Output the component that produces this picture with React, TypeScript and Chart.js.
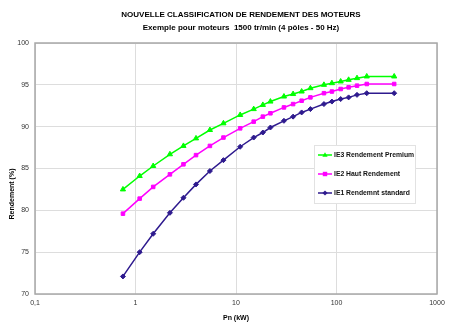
import React, { useEffect, useRef } from 'react';
import { Chart, registerables } from 'chart.js';
Chart.register(...registerables);

const powers = [0.75, 1.1, 1.5, 2.2, 3, 4, 5.5, 7.5, 11, 15, 18.5, 22, 30, 37, 45, 55, 75, 90, 110, 132, 160, 200, 375];
const ie3 = [82.5, 84.1, 85.3, 86.7, 87.7, 88.6, 89.6, 90.4, 91.4, 92.1, 92.6, 93.0, 93.6, 93.9, 94.2, 94.6, 95.0, 95.2, 95.4, 95.6, 95.8, 96.0, 96.0];
const ie2 = [79.6, 81.4, 82.8, 84.3, 85.5, 86.6, 87.7, 88.7, 89.8, 90.6, 91.2, 91.6, 92.3, 92.7, 93.1, 93.5, 94.0, 94.2, 94.5, 94.7, 94.9, 95.1, 95.1];
const ie1 = [72.1, 75.0, 77.2, 79.7, 81.5, 83.1, 84.7, 86.0, 87.6, 88.7, 89.3, 89.9, 90.7, 91.2, 91.7, 92.1, 92.7, 93.0, 93.3, 93.5, 93.8, 94.0, 94.0];
const seriesNames = ['IE3 Rendement Premium', 'IE2 Haut Rendement', 'IE1 Rendemnt standard'];
const seriesColors = ['#00ff00', '#ff00ff', '#2e1a8e'];
const seriesMarkers = ['triangle', 'rect', 'rectRot'];
const xTicks = [0.1, 1, 10, 100, 1000];
const yTicks = [70, 75, 80, 85, 90, 95, 100];
const titleLines = ['NOUVELLE CLASSIFICATION DE RENDEMENT DES MOTEURS', 'Exemple pour moteurs  1500 tr/min (4 pôles - 50 Hz)'];
const xTitle = 'Pn (kW)';
const yTitle = 'Rendement (%)';

const FONT = '"Liberation Sans", Arial, sans-serif';

function marker(ctx: CanvasRenderingContext2D, style: string, x: number, y: number, r: number) {
  ctx.beginPath();
  if (style === 'triangle') {
    ctx.moveTo(x, y - r * 1.1);
    ctx.lineTo(x + r, y + r * 0.7);
    ctx.lineTo(x - r, y + r * 0.7);
  } else if (style === 'rect') {
    ctx.rect(x - r * 0.85, y - r * 0.85, r * 1.7, r * 1.7);
  } else {
    ctx.moveTo(x, y - r);
    ctx.lineTo(x + r, y);
    ctx.lineTo(x, y + r);
    ctx.lineTo(x - r, y);
  }
  ctx.closePath();
  ctx.fill();
}

const decorPlugin = {
  id: 'decor',
  beforeDatasetsDraw(chart: any) {
    const { ctx, chartArea: a } = chart;
    ctx.save();
    ctx.strokeStyle = '#a8a8a8';
    ctx.lineWidth = 1.5;
    ctx.strokeRect(a.left, a.top, a.right - a.left, a.bottom - a.top);
    ctx.restore();
  },
  afterDraw(chart: any) {
    const { ctx, chartArea: a } = chart;
    ctx.save();
    ctx.fillStyle = '#000';
    ctx.textAlign = 'center';
    ctx.textBaseline = 'middle';
    ctx.font = `bold 8px ${FONT}`;
    ctx.fillText(titleLines[0], 241, 15);
    ctx.fillText(titleLines[1], 241, 28);
    ctx.font = `bold 7px ${FONT}`;
    ctx.fillText(xTitle, (a.left + a.right) / 2, 318);
    ctx.translate(12, 194);
    ctx.rotate(-Math.PI / 2);
    ctx.fillText(yTitle, 0, 0);
    ctx.restore();

    // legend
    const lx = a.left + 279, ly = a.top + 102, lw = 101, lh = 58;
    ctx.save();
    ctx.fillStyle = '#fff';
    ctx.fillRect(lx, ly, lw, lh);
    ctx.strokeStyle = '#e2e2e2';
    ctx.lineWidth = 1;
    ctx.strokeRect(lx + 0.5, ly + 0.5, lw, lh);
    chart.data.datasets.forEach((ds: any, i: number) => {
      const y = ly + 10 + i * 19;
      ctx.strokeStyle = ds.borderColor;
      ctx.lineWidth = 1.5;
      ctx.beginPath();
      ctx.moveTo(lx + 4, y);
      ctx.lineTo(lx + 18, y);
      ctx.stroke();
      ctx.fillStyle = ds.borderColor;
      marker(ctx, ds.pointStyle, lx + 11, y, 2.6);
      ctx.fillStyle = '#111';
      ctx.textAlign = 'left';
      ctx.textBaseline = 'middle';
      ctx.font = `bold 6.8px ${FONT}`;
      ctx.fillText(ds.label, lx + 20, y + 0.5);
    });
    ctx.restore();
  },
};

export default function App() {
  const ref = useRef<HTMLCanvasElement | null>(null);
  useEffect(() => {
    document.body.style.margin = '0';
    const mk = (i: number, data: number[]) => ({
      label: seriesNames[i],
      data: powers.map((p, k) => ({ x: p, y: data[k] })),
      borderColor: seriesColors[i],
      backgroundColor: seriesColors[i],
      pointStyle: seriesMarkers[i],
      pointRadius: i === 0 ? 3 : 2.5,
      pointBorderWidth: 1,
      borderWidth: 1.5,
      tension: 0,
    });
    const chart = new Chart(ref.current as HTMLCanvasElement, {
      type: 'line',
      data: { datasets: [mk(0, ie3), mk(1, ie2), mk(2, ie1)] },
      options: {
        animation: false,
        responsive: false,
        layout: { padding: { left: 0, right: 16, top: 43, bottom: 0 } },
        plugins: { legend: { display: false }, title: { display: false }, tooltip: { enabled: false } },
        scales: {
          x: {
            type: 'logarithmic',
            min: 0.1,
            max: 1000,
            afterBuildTicks: (s: any) => { s.ticks = xTicks.map((v) => ({ value: v })); },
            afterFit: (s: any) => { s.height = 39; },
            ticks: {
              autoSkip: false,
              maxRotation: 0,
              padding: 5,
              color: '#333',
              font: { family: FONT, size: 7 },
              callback: (v: any) => String(v).replace('.', ','),
            },
            grid: { color: '#dddddd', drawTicks: false, lineWidth: 1 },
            border: { display: false },
          },
          y: {
            min: 70,
            max: 100,
            afterBuildTicks: (s: any) => { s.ticks = yTicks.map((v) => ({ value: v })); },
            afterFit: (s: any) => { s.width = 35; },
            ticks: {
              padding: 6,
              color: '#333',
              font: { family: FONT, size: 7 },
              callback: (v: any) => String(v),
            },
            grid: { color: '#dddddd', drawTicks: false, lineWidth: 1 },
            border: { display: false },
          },
        },
      },
      plugins: [decorPlugin],
    } as any);
    return () => chart.destroy();
  }, []);
  return (
    <div style={{ width: 453, height: 333, background: '#fff' }}>
      <canvas ref={ref} width={453} height={333} style={{ width: 453, height: 333, display: 'block' }} />
    </div>
  );
}
